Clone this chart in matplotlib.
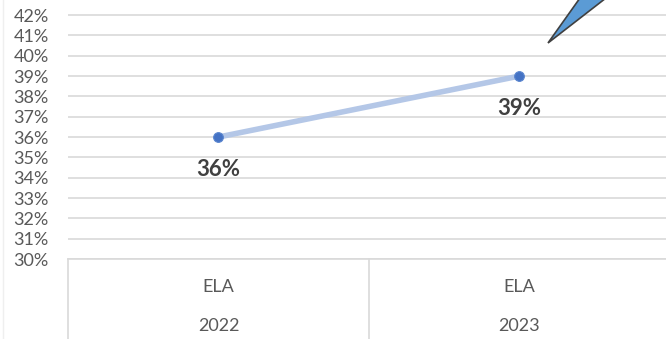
import matplotlib
matplotlib.use("Agg")
import matplotlib.pyplot as plt
from matplotlib.patches import Polygon
from matplotlib.lines import Line2D

subjects = ["ELA", "ELA"]
years = ["2022", "2023"]
rates = [36, 39]
yticks = list(range(30, 43))

W, H = 666, 339
fig = plt.figure(figsize=(W / 100, H / 100), dpi=100)
fig.patch.set_facecolor("white")

font = ["Lato", "DejaVu Sans"]
grey_txt = "#595959"
grid_c = "#D9D9D9"

# plot area in pixel units
x0, x1 = 68, 670
y_bottom = 259
px_per_pt = 20.33
ax = fig.add_axes([x0 / W, (H - y_bottom) / H, (x1 - x0) / W, y_bottom / H])
ax.set_xlim(-0.5, len(rates) - 0.5)
ax.set_ylim(30, 30 + y_bottom / px_per_pt)
ax.set_facecolor("white")
for s in ax.spines.values():
    s.set_visible(False)
ax.set_yticks(yticks)
ax.set_yticklabels([f"{v}%" for v in yticks], fontsize=13, color=grey_txt,
                   family=font)
ax.tick_params(axis="y", length=0, pad=14)
ax.set_xticks([])
for v in yticks:
    ax.axhline(v, color=grid_c, lw=1.2, zorder=0)

xs = list(range(len(rates)))
ax.plot(xs, rates, color="#B4C7E7", lw=4, solid_capstyle="round", zorder=2)
ax.plot(xs, rates, "o", color="#4472C4", ms=7, mec="#5B86CF", mew=0.8, zorder=3)
for x, v in zip(xs, rates):
    ax.annotate(f"{v}%", (x, v), xytext=(0, -32), textcoords="offset pixels",
                ha="center", va="center", fontsize=16, fontweight="bold",
                color="#404040", family=font)

# category axis table below the plot
def fx(px):
    return px / W

def fy(py):
    return 1 - py / H

line_kw = dict(color=grid_c, lw=1.2, transform=fig.transFigure)
fig.add_artist(Line2D([fx(x0), 1], [fy(y_bottom), fy(y_bottom)], **line_kw))
cw = (x1 - x0) / len(rates)
for i in range(len(rates) + 1):
    xp = x0 + i * cw
    fig.add_artist(Line2D([fx(xp), fx(xp)], [fy(y_bottom), 0], **line_kw))
for i, (s, yr) in enumerate(zip(subjects, years)):
    xc = fx(x0 + (i + 0.5) * cw)
    fig.text(xc, fy(287), s, ha="center", va="center", fontsize=13,
             color=grey_txt, family=font)
    fig.text(xc, fy(326), yr, ha="center", va="center", fontsize=13,
             color=grey_txt, family=font)

# faint outer frame on the left
fig.add_artist(Line2D([fx(2.5), fx(2.5)], [0, fy(0)], color="#EFEFEF", lw=1,
                      transform=fig.transFigure))

# callout pointer in the top right corner
tri = Polygon([(fx(548), fy(43)), (fx(580), fy(-2)), (fx(606), fy(-2))],
              closed=True, transform=fig.transFigure, facecolor="#5B9BD5",
              edgecolor="#404040", lw=1.2, zorder=5)
fig.add_artist(tri)

fig.savefig("out.png", dpi=100, facecolor="white")
